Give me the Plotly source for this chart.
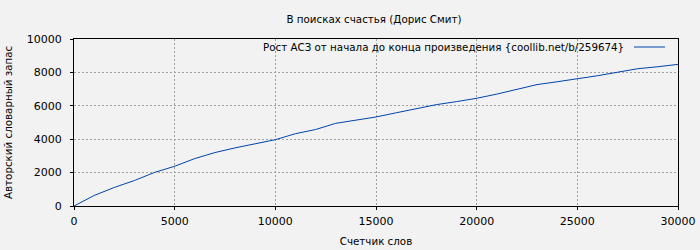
import plotly.graph_objects as go

# Data
words = [0, 1000, 2000, 3000, 4000, 5000, 6000, 7000, 8000, 9000, 10000,
         11000, 12000, 13000, 14000, 15000, 16000, 17000, 18000, 19000, 20000,
         21000, 22000, 23000, 24000, 25000, 26000, 27000, 28000, 29000, 30000]
vocab = [0, 630, 1110, 1525, 2010, 2380, 2840, 3200, 3480, 3730, 3970,
         4330, 4580, 4950, 5130, 5330, 5580, 5830, 6070, 6250, 6450,
         6700, 6980, 7270, 7440, 7600, 7800, 8010, 8220, 8340, 8480]

x_ticks = [0, 5000, 10000, 15000, 20000, 25000, 30000]
y_ticks = [0, 2000, 4000, 6000, 8000, 10000]

title_text = "В поисках счастья (Дорис Смит)"
series_name = "Рост АСЗ от начала до конца произведения {coollib.net/b/259674}"
x_title = "Счетчик слов"
y_title = "Авторский словарный запас"

BG = "#f2f2f2"
LINE = "#0044aa"
FONT = "DejaVu Sans"
TXT = 10.3

W, H = 700, 250
L, R, T, B = 74, 22, 39, 44
pw, ph = W - L - R, H - T - B

def px_x(px):
    return (px - L) / pw

def px_y(py):
    return (H - B - py) / ph

fig = go.Figure()
fig.add_trace(go.Scatter(x=words, y=vocab, mode="lines", name=series_name,
                         line=dict(color=LINE, width=1), showlegend=False,
                         hoverinfo="skip"))

axis_common = dict(
    showline=True, linecolor="black", linewidth=1, mirror=True,
    ticks="outside", ticklen=3, tickcolor="black",
    showgrid=True, gridcolor="#a0a0a0", gridwidth=1, griddash="2px,2px",
    zeroline=False, tickfont=dict(family=FONT, size=11, color="black"),
    automargin=False,
)

fig.update_xaxes(range=[0, 30000], tickvals=x_ticks,
                 ticktext=[str(v) for v in x_ticks], **axis_common,
                 ticklabelstandoff=2,
                 title=dict(text=x_title, font=dict(family=FONT, size=TXT, color="black"),
                            standoff=10))
fig.update_yaxes(range=[0, 10000], tickvals=y_ticks,
                 ticktext=[str(v) for v in y_ticks], **axis_common,
                 ticklabelstandoff=6)

fig.update_layout(
    width=W, height=H,
    margin=dict(l=L, r=R, t=T, b=B, pad=0, autoexpand=False),
    paper_bgcolor=BG, plot_bgcolor=BG,
    font=dict(family=FONT, size=11, color="black"),
    title=dict(text=title_text, x=px_x(374), xanchor="center", xref="paper",
               y=1 - 19 / H, yanchor="middle", yref="container",
               font=dict(family=FONT, size=TXT, color="black")),
    showlegend=False,
)

# y-axis title placed as in the reference
fig.add_annotation(text=y_title, xref="paper", yref="paper",
                   x=px_x(8), y=px_y(122), xanchor="center", yanchor="middle",
                   textangle=-90, showarrow=False,
                   font=dict(family=FONT, size=TXT, color="black"))

# legend box area hides the top of the grid
fig.add_shape(type="rect", xref="paper", yref="paper",
              x0=0, x1=1, y0=px_y(55), y1=1,
              fillcolor=BG, line=dict(width=0), layer="between")
# legend entry: text then line key on the right
fig.add_annotation(text=series_name, xref="paper", yref="paper",
                   x=px_x(626), y=px_y(47), xanchor="right", yanchor="middle",
                   showarrow=False, font=dict(family=FONT, size=TXT, color="black"))
fig.add_shape(type="line", xref="paper", yref="paper",
              x0=px_x(634), x1=px_x(665), y0=px_y(47), y1=px_y(47),
              line=dict(color=LINE, width=1))

fig.write_html("out.html")
